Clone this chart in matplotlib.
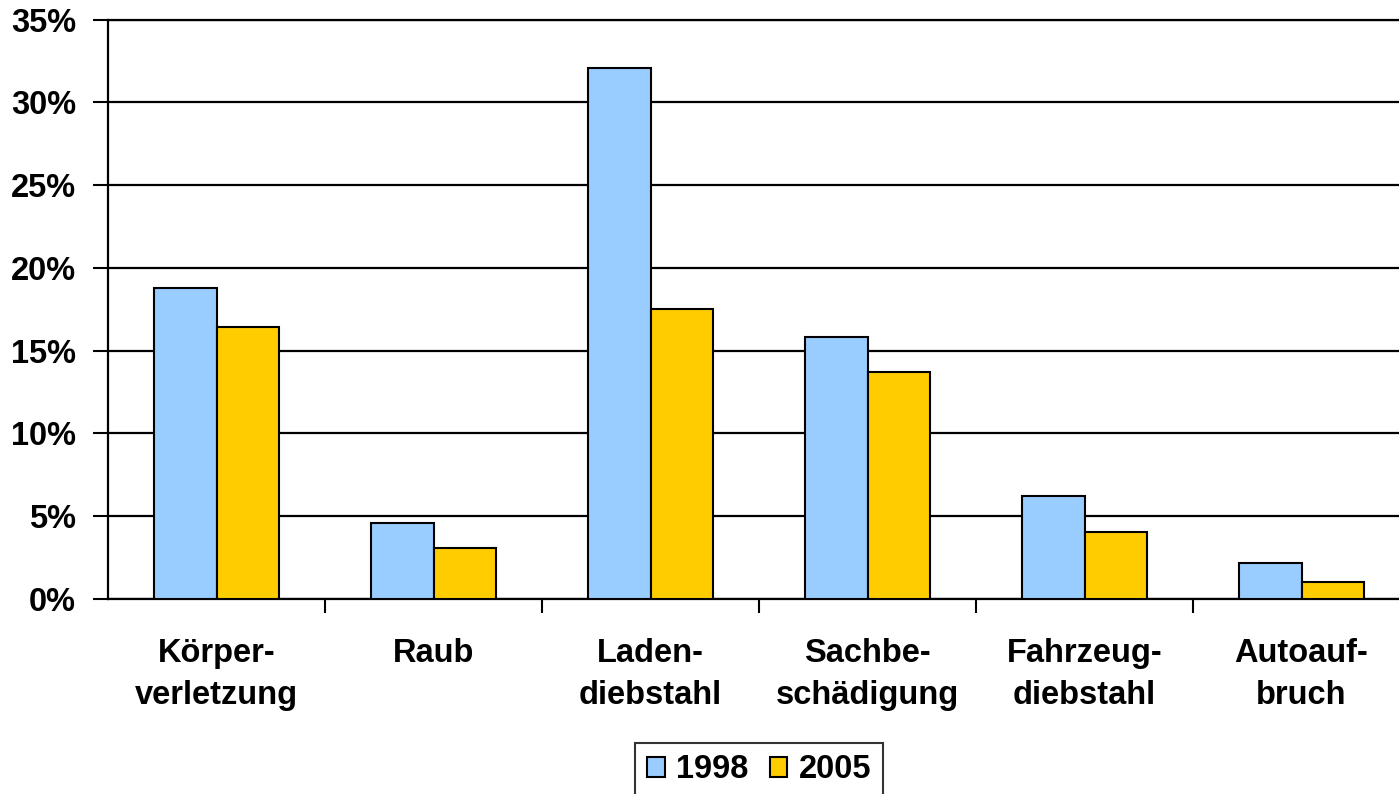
import matplotlib
matplotlib.use("Agg")
import matplotlib.pyplot as plt
import numpy as np
from matplotlib.ticker import FuncFormatter, MultipleLocator

categories = ["Körper-\nverletzung", "Raub", "Laden-\ndiebstahl", "Sachbe-\nschädigung",
              "Fahrzeug-\ndiebstahl", "Autoauf-\nbruch"]
series_names = ["1998", "2005"]
values_1998 = [18.8, 4.6, 32.1, 15.8, 6.2, 2.2]
values_2005 = [16.4, 3.1, 17.5, 13.7, 4.05, 1.0]
colors = ["#99CCFF", "#FFCC00"]

plt.rcParams['font.family'] = ['Liberation Sans', 'DejaVu Sans']
plt.rcParams['font.weight'] = 'bold'

FS = 23.5
fig = plt.figure(figsize=(13.99, 7.94), dpi=100)
W, H = 1399, 794
left, right, top, bottom = 108, 1410, 19.5, 599
ax = fig.add_axes([left / W, 1 - bottom / H, (right - left) / W, (bottom - top) / H])

x = np.arange(len(categories))
bw = 0.29
ax.bar(x - bw / 2, values_1998, bw, color=colors[0], edgecolor="black", linewidth=1.5,
       label=series_names[0], zorder=3)
ax.bar(x + bw / 2, values_2005, bw, color=colors[1], edgecolor="black", linewidth=1.5,
       label=series_names[1], zorder=3)

ax.set_xlim(-0.5, len(categories) - 0.5)
ax.set_ylim(0, 35)
ax.yaxis.set_major_locator(MultipleLocator(5))
ax.yaxis.set_major_formatter(FuncFormatter(lambda v, p: f"{int(v)}%"))
ax.grid(axis="y", color="black", linewidth=1.6, zorder=0)

ax.spines["right"].set_visible(False)
for s in ["left", "bottom", "top"]:
    ax.spines[s].set_linewidth(1.6)

ax.set_xticks(x)
ax.set_xticklabels(categories, fontsize=FS, fontweight="bold", linespacing=1.45)
ax.tick_params(axis="x", length=0, pad=28)
ax.set_xticks(np.arange(0.5, len(categories) - 0.5, 1), minor=True)
ax.tick_params(axis="x", which="minor", length=10, width=1.5, direction="out")
ax.tick_params(axis="y", length=11, width=1.5, direction="out", labelsize=FS, pad=12)
for lab in ax.get_yticklabels():
    lab.set_fontweight("bold")

leg = ax.legend(loc="upper center", bbox_to_anchor=((759 - left) / (right - left), (599 - 743) / (bottom - top)),
                borderaxespad=0, ncol=2, frameon=True, fancybox=False, edgecolor="black",
                handlelength=0.55, handleheight=0.55, handletextpad=0.35, columnspacing=0.65,
                borderpad=0.35, prop={"weight": "bold", "size": FS})
leg.get_frame().set_linewidth(1.5)
for h in leg.legend_handles:
    h.set_linewidth(1.5)

fig.savefig("out.png", dpi=100)
